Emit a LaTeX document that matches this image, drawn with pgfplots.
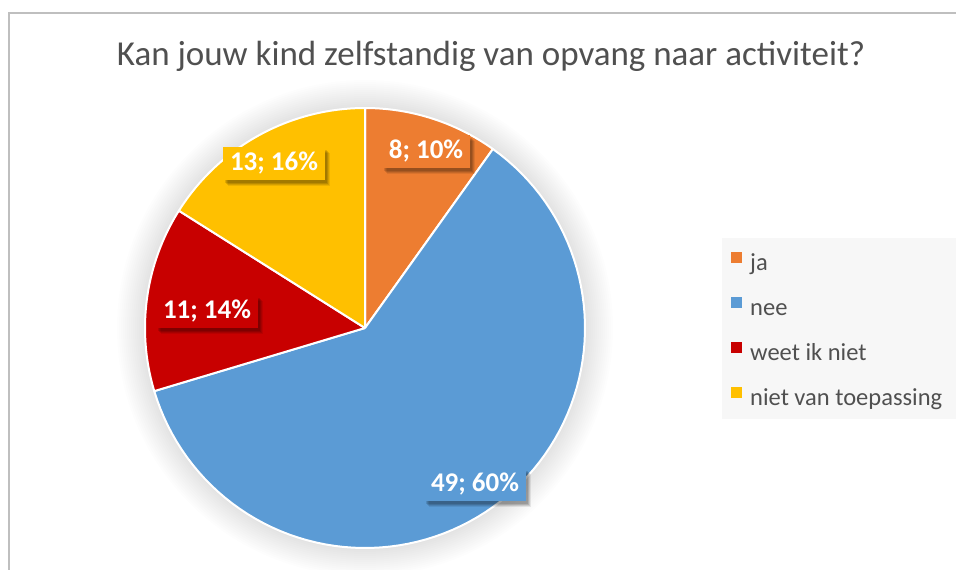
\documentclass[border=0pt]{standalone}
\usepackage{fontspec}
\setmainfont{Carlito}
\usepackage{pgfplots}
\pgfplotsset{compat=1.18}
\usetikzlibrary{shadows}
\definecolor{cja}{HTML}{ED7D31}
\definecolor{cnee}{HTML}{5B9BD5}
\definecolor{cweet}{HTML}{C80000}
\definecolor{cniet}{HTML}{FFC000}
\definecolor{txt}{HTML}{505050}
\definecolor{frame}{HTML}{BFBFBF}
% data
\def\vja{8}
\def\vnee{49}
\def\vweet{11}
\def\vniet{13}
\pgfmathsetmacro\tot{\vja+\vnee+\vweet+\vniet}
\pgfmathsetmacro\aA{0}
\pgfmathsetmacro\aB{\vja/\tot*360}
\pgfmathsetmacro\aC{(\vja+\vnee)/\tot*360}
\pgfmathsetmacro\aD{(\vja+\vnee+\vweet)/\tot*360}
\pgfmathsetmacro\aE{360}
\def\cx{365}
\def\cy{328}
\def\rr{220}
\newcommand{\slice}[3]{%
\addplot[fill=#1, draw=white, line width=2pt, line join=round, variable=\t,
  samples at={-1,0,1,...,90,91}]
  ({ifthenelse(\t<0||\t>90, \cx, \cx+\rr*sin(#2+\t/90*(#3-#2)))},
   {ifthenelse(\t<0||\t>90, \cy, \cy-\rr*cos(#2+\t/90*(#3-#2)))});
}
\begin{document}
\begin{tikzpicture}
\begin{axis}[name=ax, x=1pt, y=1pt, xmin=0, xmax=956, ymin=0, ymax=570,
  y dir=reverse, hide axis, clip=false, area legend,
  legend image code/.code={\path[#1,draw=none] (0pt,1pt) rectangle (11pt,12pt);},
  legend cell align=left,
  legend style={at={(axis description cs:0.7615,0.5614)}, anchor=north west,
    draw=none, fill=none, text=txt,
    font=\fontsize{24.5}{29}\selectfont,
    nodes={inner sep=0pt, text height=18pt, text depth=6pt},
    row sep=21pt, column sep=8pt},
  ]
\fill[white] (0,0) rectangle (956,570);
\draw[frame, line width=1.5pt] (9,600) -- (9,13) -- (1000,13);
\fill[black!3] (722,238) rectangle (960,419);
\pgfplotsinvokeforeach{1,...,14}{
  \fill[black, opacity=0.008] (365,328) circle[radius={220+2*#1}];
}
\slice{cja}{\aA}{\aB}
\addlegendentry{ja}
\slice{cnee}{\aB}{\aC}
\addlegendentry{nee}
\slice{cweet}{\aC}{\aD}
\addlegendentry{weet ik niet}
\slice{cniet}{\aD}{\aE}
\addlegendentry{niet van toepassing}
\tikzset{lab/.style={text=white, font=\fontsize{27}{32}\selectfont\bfseries,
  inner xsep=7pt, minimum height=33pt,
  drop shadow={shadow xshift=5pt, shadow yshift=-6pt, opacity=0.08, fill=black},
  drop shadow={shadow xshift=4pt, shadow yshift=-5pt, opacity=0.10, fill=black},
  drop shadow={shadow xshift=3pt, shadow yshift=-4pt, opacity=0.12, fill=black},
  drop shadow={shadow xshift=2pt, shadow yshift=-3pt, opacity=0.12, fill=black}}}
\node[lab, fill=cja] at (426,151) {8; 10\%};
\node[lab, fill=cnee] at (475,484) {49; 60\%};
\node[lab, fill=cweet] at (207,311) {11; 14\%};
\node[lab, fill=cniet] at (274,163) {13; 16\%};
\node[text=txt, font=\fontsize{35}{42}\selectfont] at (491,56) {Kan jouw kind zelfstandig van opvang naar activiteit?};
\end{axis}
\pgfresetboundingbox
\useasboundingbox (ax.south west) rectangle (ax.north east);
\end{tikzpicture}
\end{document}
